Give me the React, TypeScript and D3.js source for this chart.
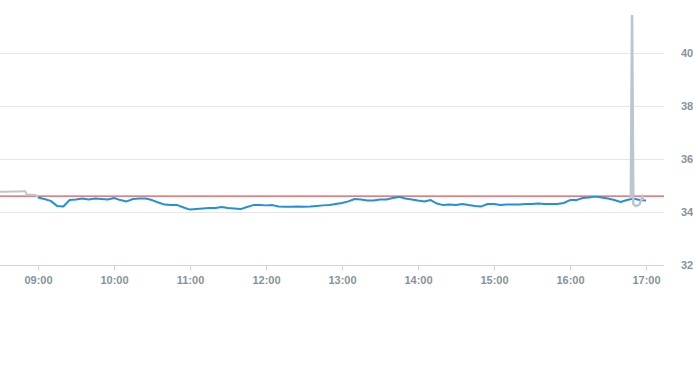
import React, { useEffect, useRef } from 'react';
import * as d3 from 'd3';

// pre-open trade (grey)
const preTimes = ['08:30', '08:35', '08:40', '08:45', '08:48', '08:50', '08:51', '08:55', '08:58', '09:00'];
const preValues = [34.76, 34.76, 34.77, 34.77, 34.78, 34.78, 34.66, 34.65, 34.64, 34.55];

// main session (blue), 5-minute steps from 09:00
const mainStart = '09:00';
const mainValues = [
  34.55, 34.49, 34.42, 34.23, 34.21, 34.45, 34.47, 34.51, 34.47, 34.51, 34.49, 34.47,
  34.53, 34.45, 34.4, 34.49, 34.51, 34.51, 34.45, 34.36, 34.28, 34.26, 34.26, 34.17,
  34.09, 34.11, 34.13, 34.15, 34.15, 34.19, 34.15, 34.13, 34.11, 34.19, 34.26, 34.26,
  34.25, 34.26, 34.21, 34.2, 34.2, 34.21, 34.2, 34.21, 34.23, 34.25, 34.26, 34.3,
  34.34, 34.4, 34.49, 34.47, 34.43, 34.43, 34.47, 34.47, 34.53, 34.57, 34.51, 34.47,
  34.43, 34.4, 34.45, 34.32, 34.26, 34.28, 34.26, 34.3, 34.26, 34.23, 34.21, 34.3,
  34.3, 34.26, 34.28, 34.28, 34.28, 34.3, 34.3, 34.32, 34.3, 34.3, 34.3, 34.34,
  34.45, 34.45, 34.53, 34.55, 34.58, 34.55, 34.51, 34.45, 34.38, 34.45, 34.51, 34.45,
  34.43,
];

// late trades with the spike (grey)
const postTimes = ['16:48', '16:49', '16:50', '16:52', '16:54', '16:55', '16:57', '16:58'];
const postValues = [34.51, 41.43, 34.3, 34.22, 34.26, 34.3, 34.57, 34.45];

const refValue = 34.6;
const yTicks = [32, 34, 36, 38, 40];
const xTickHours = ['09:00', '10:00', '11:00', '12:00', '13:00', '14:00', '15:00', '16:00', '17:00'];

const W = 693;
const H = 365;

const App = () => {
  const svgRef = useRef<SVGSVGElement>(null);

  useEffect(() => {
    const svg = d3.select(svgRef.current);
    svg.selectAll('*').remove();

    const parse = d3.timeParse('%H:%M');
    const t0 = parse('08:30')!;
    const t1 = parse('17:15')!;
    const start = parse(mainStart)!;

    const x = d3.scaleTime().domain([t0, t1]).range([0, 665]);
    const y = d3.scaleLinear().domain([32, 42]).range([265, 0]);

    const pre = preTimes.map((t, i) => ({ t: parse(t)!, v: preValues[i] }));
    const main = mainValues.map((v, i) => ({ t: d3.timeMinute.offset(start, i * 5), v }));
    const post = postTimes.map((t, i) => ({ t: parse(t)!, v: postValues[i] }));

    // grid
    svg
      .append('g')
      .selectAll('line')
      .data(yTicks.filter((d) => d > 32))
      .join('line')
      .attr('x1', 0)
      .attr('x2', 664)
      .attr('y1', (d) => y(d) + 0.5)
      .attr('y2', (d) => y(d) + 0.5)
      .attr('stroke', '#e6e6e6');

    // x axis
    const xAxis = d3
      .axisBottom(x)
      .tickValues(xTickHours.map((h) => parse(h)!))
      .tickFormat(d3.timeFormat('%H:%M') as any)
      .tickSize(5)
      .tickPadding(6);

    const gx = svg.append('g').attr('transform', 'translate(0,265.5)').call(xAxis);
    gx.select('.domain').attr('d', 'M0,0H664').attr('stroke', '#ccd6eb');
    gx.selectAll('.tick line').attr('stroke', '#ccd6eb');
    gx.selectAll('.tick text')
      .attr('fill', '#8792a0')
      .attr('font-size', 11)
      .attr('font-weight', 'bold')
      .attr('font-family', 'Liberation Sans, Arial, sans-serif');

    // y labels on the right
    svg
      .append('g')
      .selectAll('text')
      .data(yTicks)
      .join('text')
      .attr('x', 681)
      .attr('y', (d) => y(d) + 4)
      .attr('fill', '#8792a0')
      .attr('font-size', 11)
      .attr('font-weight', 'bold')
      .attr('font-family', 'Liberation Sans, Arial, sans-serif')
      .text((d) => d);

    // reference line, under the series
    svg
      .append('line')
      .attr('x1', 0)
      .attr('x2', 664)
      .attr('y1', y(refValue))
      .attr('y2', y(refValue))
      .attr('stroke', '#cc2a2a')
      .attr('stroke-width', 1);

    const line = d3
      .line<{ t: Date; v: number }>()
      .x((d) => x(d.t))
      .y((d) => y(d.v));

    svg
      .append('path')
      .datum(pre)
      .attr('d', line)
      .attr('fill', 'none')
      .attr('stroke', '#bcc6cf')
      .attr('stroke-width', 2);

    svg
      .append('path')
      .datum(main)
      .attr('d', line)
      .attr('fill', 'none')
      .attr('stroke', '#2390da')
      .attr('stroke-width', 2)
      .attr('stroke-linejoin', 'round');

    svg
      .append('path')
      .datum(post)
      .attr('d', line)
      .attr('fill', 'none')
      .attr('stroke', '#bcc6cf')
      .attr('stroke-width', 2.5);
  }, []);

  return (
    <svg
      ref={svgRef}
      width={W}
      height={H}
      style={{ position: 'absolute', left: 0, top: 0, background: '#fff' }}
    />
  );
};

export default App;
